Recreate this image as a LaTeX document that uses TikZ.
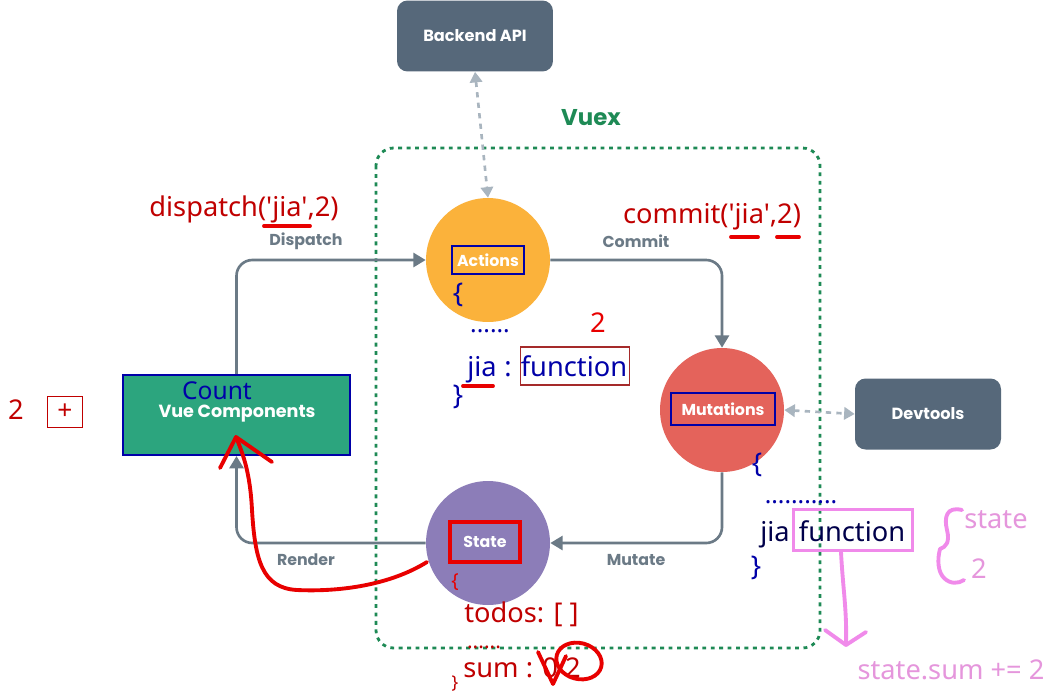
\documentclass[tikz,border=0pt]{standalone}
\usepackage{fontspec}
\setmainfont{Poppins}
\newfontfamily\anno[Ligatures=TeXOff]{Noto Sans}
\usetikzlibrary{arrows.meta}
\definecolor{slate}{HTML}{56687A}
\definecolor{conn}{HTML}{6B7A86}
\definecolor{dashg}{HTML}{A9B5BF}
\definecolor{actc}{HTML}{FBB23B}
\definecolor{mutc}{HTML}{E4635B}
\definecolor{stc}{HTML}{8C7DB8}
\definecolor{vuec}{HTML}{2CA57E}
\definecolor{vuexg}{HTML}{1E8A55}
\definecolor{anred}{HTML}{C00000}
\definecolor{brred}{HTML}{E80000}
\definecolor{anblue}{HTML}{0000A8}
\definecolor{navy}{HTML}{00004A}
\definecolor{pink}{HTML}{F08AEA}
\definecolor{pinkt}{HTML}{E596DC}
\definecolor{boxred}{HTML}{A52A2A}
\tikzset{
  x=0.02cm, y=-0.02cm,
  circ/.style={circle, minimum size=2.48cm, inner sep=0pt, draw=none},
  sbox/.style={rounded corners=6pt, fill=slate, text=white, font=\bfseries\fontsize{9.2}{11}\selectfont, inner sep=0pt},
  wlbl/.style={text=white, font=\bfseries\fontsize{9}{11}\selectfont, inner sep=2pt},
  clbl/.style={text=conn, font=\bfseries\fontsize{9}{11}\selectfont},
  connl/.style={draw=conn, line width=1.5pt, rounded corners=9pt, -{Triangle[length=7pt,width=8pt]}},
  dashar/.style={draw=dashg, line width=1.5pt, dash pattern=on 3pt off 3pt, {Triangle[length=6pt,width=7pt]}-{Triangle[length=6pt,width=7pt]}},
  an/.style={font=\anno\fontsize{15.5}{18}\selectfont, inner sep=0pt},
  redmark/.style={draw=brred, line width=2.2pt, line cap=round, line join=round},
  pinkmark/.style={draw=pink, line width=2.2pt, line cap=round, line join=round},
}
\begin{document}
\begin{tikzpicture}
\useasboundingbox[fill=white] (0,0) rectangle (1057,694);
% frame
\draw[vuexg, line width=1.6pt, dash pattern=on 2.2pt off 2.6pt, rounded corners=10pt] (376,148) rectangle (820,648);
\node[text=vuexg, font=\bfseries\fontsize{13}{15}\selectfont] (vuex) at (591,118) {Vuex};
% boxes
\node[sbox, minimum width=3.12cm, minimum height=1.42cm] (api) at (475,36) {Backend API};
\node[sbox, minimum width=2.92cm, minimum height=1.42cm] (dev) at (928,414) {Devtools};
\node[fill=vuec, draw=anblue, line width=1.2pt, minimum width=4.54cm, minimum height=1.6cm] (vue) at (236.5,415) {};
\node[text=anblue, font=\anno\fontsize{14}{16}\selectfont, inner sep=0pt] (count) at (217,391) {Count};
\node[wlbl, font=\bfseries\fontsize{10}{12}\selectfont] (vuel) at (237,414) {Vue Components};
% circles
\node[circ, fill=actc] (act) at (488,260) {};
\node[circ, fill=mutc] (mut) at (722,410) {};
\node[circ, fill=stc] (st) at (488,543) {};
\node[wlbl, draw=anblue, line width=1pt, minimum width=1.44cm, minimum height=0.56cm] (actl) at (488,260) {Actions};
\node[wlbl, draw=anblue, line width=1pt, minimum width=2.08cm, minimum height=0.64cm] (mutl) at (723,409) {Mutations};
\node[wlbl, draw=brred, line width=2pt, minimum width=1.4cm, minimum height=0.8cm] (stl) at (485,542) {State};
% connectors
\draw[connl] (vue.north) |- (act.west);
\draw[connl] (act.east) -| (mut.north);
\draw[connl] (mut.south) |- (st.east);
\draw[connl] (st.west) -| (vue.south);
\node[clbl] (dspl) at (306,241) {Dispatch};
\node[clbl] (coml) at (636,241) {Commit};
\node[clbl] (mtl) at (636,560) {Mutate};
\node[clbl] (rnl) at (306,560) {Render};
\draw[dashar] (api.south) -- (act.north);
\draw[dashar] (mut.east) -- (dev.west);
% dispatch / commit annotations
\node[an, text=anred, anchor=base] (dsp) at (244,216) {dispatch('jia',2)};
\draw[redmark] (264,226) -- (310,226);
\node[an, text=anred, anchor=base] (cmt) at (712,223) {commit('jia',2)};
\draw[redmark] (731,237) -- (758,237);
\draw[redmark] (777,237) -- (799,237);
% actions annotation
\node[an, text=anblue, anchor=base] (ab1) at (458,302) {\{};
\node[an, text=anblue, font=\anno\bfseries\fontsize{14}{16}\selectfont, anchor=base] (ad) at (490,332) {......};
\node[an, text=brred, anchor=base] (a2) at (598,332) {2};
\node[an, text=anblue, anchor=base west] (ajia) at (467,376) {jia};
\node[an, text=anblue, anchor=base] (acol) at (508,376) {:};
\node[an, text=anblue, anchor=base] (afnt) at (574,376) {function};
\node[draw=boxred, line width=1pt, minimum width=2.18cm, minimum height=0.76cm, inner sep=0pt] (afn) at (575,366) {};
\draw[redmark] (463,386) -- (493,386);
\node[an, text=anblue, anchor=base] (ab2) at (458,404) {\}};
% mutations annotation
\node[an, text=anblue, anchor=base] (mb1) at (757,472) {\{};
\node[an, text=anblue, font=\anno\bfseries\fontsize{14}{16}\selectfont, anchor=base] (md) at (801,503) {...........};
\node[an, text=navy, anchor=base west] (mjia) at (760,541) {jia};
\node[an, text=navy, anchor=base] (mfnt) at (852,541) {function};
\node[draw=pink, line width=2pt, minimum width=2.38cm, minimum height=0.82cm, inner sep=0pt] (mfn) at (853,530) {};
\node[an, text=anblue, anchor=base] (mb2) at (756,575) {\}};
\draw[pinkmark] (962,510) .. controls (946,506) and (944,518) .. (947,530) .. controls (950,542) and (946,547) .. (940,549)
  .. controls (937,560) and (938,572) .. (944,578) .. controls (950,584) and (958,584) .. (964,580);
\node[an, text=pinkt, anchor=base] (pst) at (996,528) {state};
\node[an, text=pinkt, anchor=base] (p2) at (979,578) {2};
\coordinate (ptip) at (846,645);
\draw[pinkmark] (mfn.south) ++(-12,0) .. controls (843,590) and (847,610) .. (ptip);
\draw[pinkmark] (825,630) -- (ptip) -- (866,632);
\node[an, text=pinkt, anchor=base] (psum) at (951,679) {state.sum += 2};
% state annotation
\node[an, text=brred, font=\anno\fontsize{11}{13}\selectfont] (sb1) at (455,582) {\{};
\node[an, text=anred, anchor=base west] (todos) at (464,622) {todos: [ ]};
\node[an, text=anred, font=\anno\bfseries\fontsize{12}{14}\selectfont, anchor=base] (sd) at (484,648) {......};
\node[an, text=anred, anchor=base west] (sum) at (463,677) {sum : 0 2};
\draw[redmark, rotate around={-15:(579,661)}] (579,661) ellipse (23 and 18);
\draw[redmark] (538,652) -- (553,684) -- (566,656);
\node[an, text=anred, font=\anno\fontsize{10}{12}\selectfont] (sb2) at (455,684) {\}};
% left
\node[an, text=anred] (l2) at (16,410) {2};
\node[draw=anred, line width=1pt, minimum width=0.7cm, minimum height=0.62cm, inner sep=0pt, text=anred, font=\anno\fontsize{15}{17}\selectfont] (plus) at (65,412) {+};
% red arrow render
\coordinate (rtip) at (236,437);
\draw[redmark] (427,562) .. controls (390,585) and (340,592) .. (297,590) .. controls (262,588) and (255,560) .. (252,510) .. controls (250,470) and (242,452) .. (rtip);
\draw[redmark] (220,468) -- (rtip) -- (272,462);
\end{tikzpicture}
\end{document}
